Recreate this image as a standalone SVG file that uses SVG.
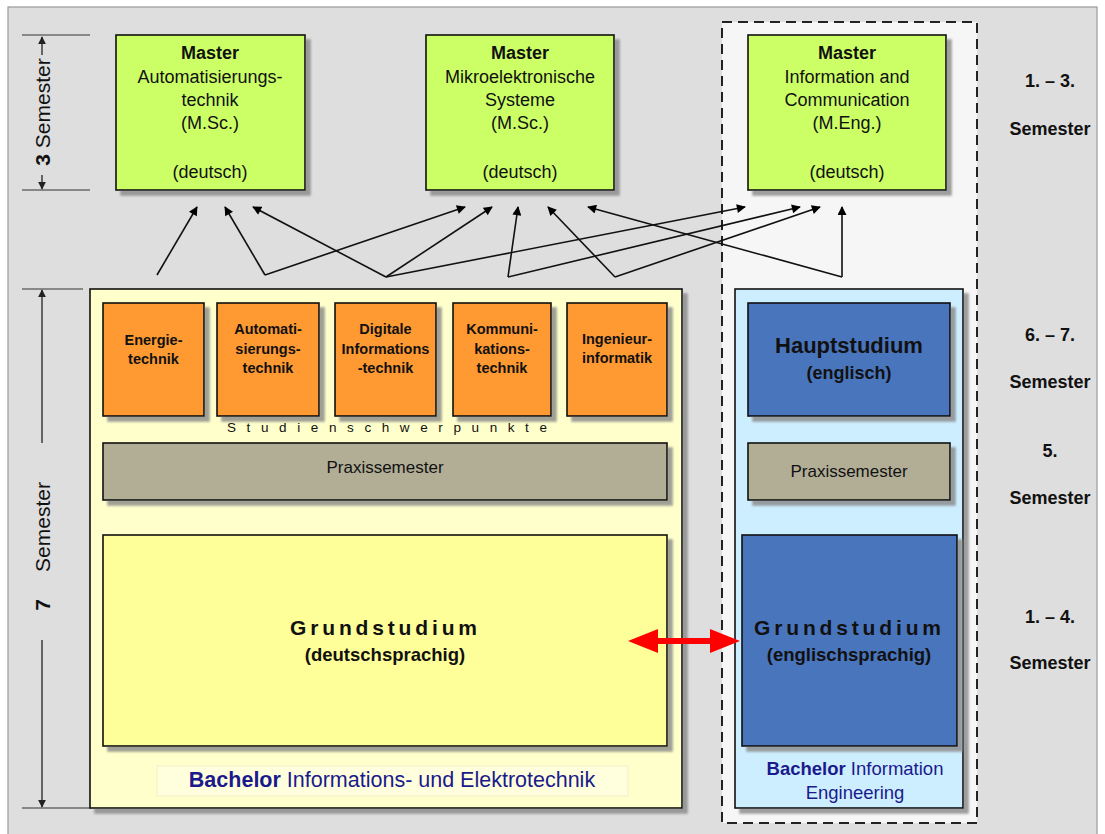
<svg xmlns="http://www.w3.org/2000/svg" width="1105" height="834" viewBox="0 0 1105 834">
<defs>
<filter id="sh" x="-10%" y="-10%" width="130%" height="130%">
<feDropShadow dx="5" dy="5" stdDeviation="1.2" flood-color="#888" flood-opacity="0.8"/>
</filter>
<marker id="ah" viewBox="0 0 10 10" refX="9" refY="5" markerWidth="10" markerHeight="9" markerUnits="userSpaceOnUse" orient="auto">
<path d="M0,0 L10,5 L0,10 z" fill="#000"/>
</marker>
<marker id="ah2" viewBox="0 0 10 10" refX="9" refY="5" markerWidth="8" markerHeight="8" markerUnits="userSpaceOnUse" orient="auto">
<path d="M0,0 L10,5 L0,10 z" fill="#222"/>
</marker>
</defs>
<style>
text{font-family:"Liberation Sans",Arial,sans-serif;fill:#111}
.box{stroke:#111;stroke-width:1.6}
.m{fill:#ccff66}
.o{fill:#ff9933}
.p{fill:#b2ae96}
.b{fill:#4a75bd}
.mt{font-size:18px;text-anchor:middle}
.ot{font-size:14.5px;font-weight:bold;text-anchor:middle}
.rl{font-size:18px;font-weight:bold;text-anchor:middle}
.conn{stroke:#111;stroke-width:1.6;fill:none;marker-end:url(#ah)}
.tick{stroke:#333;stroke-width:1.2}
.blue{fill:#1a1a8c}
</style>
<!-- background -->
<rect x="8" y="7" width="1089" height="840" fill="#dedede" stroke="#999" stroke-width="1.2"/>
<rect x="722" y="22" width="255" height="801" fill="#f6f6f6" stroke="#222" stroke-width="2" stroke-dasharray="10,6"/>

<!-- left scale -->
<g id="scale">
<line class="tick" x1="22" y1="35" x2="90" y2="35"/>
<line class="tick" x1="22" y1="190" x2="90" y2="190"/>
<line class="tick" x1="22" y1="289" x2="83" y2="289"/>
<line class="tick" x1="22" y1="808" x2="90" y2="808"/>
<line x1="42" y1="55" x2="42" y2="37" stroke="#222" stroke-width="1.3" marker-end="url(#ah2)"/>
<line x1="42" y1="175" x2="42" y2="189" stroke="#222" stroke-width="1.3" marker-end="url(#ah2)"/>
<text transform="translate(50,112) rotate(-90)" font-size="21" text-anchor="middle"><tspan font-weight="bold">3</tspan>  Semester</text>
<line x1="42" y1="443" x2="42" y2="290" stroke="#222" stroke-width="1.3" marker-end="url(#ah2)"/>
<line x1="42" y1="640" x2="42" y2="807" stroke="#222" stroke-width="1.3" marker-end="url(#ah2)"/>
<text transform="translate(50,527) rotate(-90)" font-size="21" text-anchor="middle">Semester</text>
<text transform="translate(50,605) rotate(-90)" font-size="21" font-weight="bold" text-anchor="middle">7</text>
</g>

<!-- right labels -->
<g id="right-labels">
<text class="rl" x="1050" y="87">1. – 3.</text>
<text class="rl" x="1050" y="135">Semester</text>
<text class="rl" x="1050" y="341">6. – 7.</text>
<text class="rl" x="1050" y="388">Semester</text>
<text class="rl" x="1050" y="457">5.</text>
<text class="rl" x="1050" y="504">Semester</text>
<text class="rl" x="1050" y="623">1. – 4.</text>
<text class="rl" x="1050" y="669">Semester</text>
</g>

<!-- Masters -->
<g id="master1">
<rect class="box m" x="116" y="35" width="189" height="155" filter="url(#sh)"/>
<text class="mt" x="210" y="59" font-weight="bold">Master</text>
<text class="mt" x="210" y="83">Automatisierungs-</text>
<text class="mt" x="210" y="106">technik</text>
<text class="mt" x="210" y="129">(M.Sc.)</text>
<text class="mt" x="210" y="178">(deutsch)</text>
</g>
<g id="master2">
<rect class="box m" x="426" y="35" width="188" height="155" filter="url(#sh)"/>
<text class="mt" x="520" y="59" font-weight="bold">Master</text>
<text class="mt" x="520" y="83">Mikroelektronische</text>
<text class="mt" x="520" y="106">Systeme</text>
<text class="mt" x="520" y="129">(M.Sc.)</text>
<text class="mt" x="520" y="178">(deutsch)</text>
</g>
<g id="master3">
<rect class="box m" x="748" y="35" width="198" height="155" filter="url(#sh)"/>
<text class="mt" x="847" y="59" font-weight="bold">Master</text>
<text class="mt" x="847" y="83">Information and</text>
<text class="mt" x="847" y="106">Communication</text>
<text class="mt" x="847" y="129">(M.Eng.)</text>
<text class="mt" x="847" y="178">(deutsch)</text>
</g>

<!-- Bachelor IuE -->
<g id="bachelor-ie">
<rect class="box" x="90" y="289" width="592" height="519" fill="#ffffcc" filter="url(#sh)"/>
<rect x="157" y="766" width="471" height="30" fill="#ffffdd" stroke="#f0f0c8" stroke-width="1"/>
<text x="392" y="787" font-size="21.5" text-anchor="middle"><tspan class="blue" font-weight="bold">Bachelor</tspan><tspan class="blue"> Informations- und Elektrotechnik</tspan></text>
</g>
<g id="sp1"><rect class="box o" x="103" y="303" width="101" height="113" filter="url(#sh)"/>
<text class="ot" x="153.5" y="345">Energie-</text><text class="ot" x="153.5" y="364">technik</text></g>
<g id="sp2"><rect class="box o" x="217" y="303" width="102" height="113" filter="url(#sh)"/>
<text class="ot" x="268" y="334">Automati-</text><text class="ot" x="268" y="354">sierungs-</text><text class="ot" x="268" y="373">technik</text></g>
<g id="sp3"><rect class="box o" x="335" y="303" width="101" height="113" filter="url(#sh)"/>
<text class="ot" x="385.5" y="334">Digitale</text><text class="ot" x="385.5" y="354">Informations</text><text class="ot" x="385.5" y="373">-technik</text></g>
<g id="sp4"><rect class="box o" x="453" y="303" width="98" height="113" filter="url(#sh)"/>
<text class="ot" x="502" y="334">Kommuni-</text><text class="ot" x="502" y="354">kations-</text><text class="ot" x="502" y="373">technik</text></g>
<g id="sp5"><rect class="box o" x="567" y="303" width="100" height="113" filter="url(#sh)"/>
<text class="ot" x="617" y="344">Ingenieur-</text><text class="ot" x="617" y="363">informatik</text></g>
<text x="227" y="432" font-size="13.5" textLength="320" lengthAdjust="spacing" fill="#333">Studienschwerpunkte</text>
<g id="praxis-left"><rect class="box p" x="103" y="443" width="564" height="57" filter="url(#sh)"/>
<text x="385" y="473" font-size="17" text-anchor="middle" fill="#222">Praxissemester</text></g>
<g id="grund-left"><rect class="box" x="103" y="535" width="564" height="211" fill="#ffff99" filter="url(#sh)"/>
<text x="290" y="635" font-size="21" font-weight="bold" textLength="187" lengthAdjust="spacing">Grundstudium</text>
<text x="385" y="661" font-size="18.5" font-weight="bold" text-anchor="middle">(deutschsprachig)</text></g>

<!-- Bachelor IE -->
<g id="bachelor-ie-en">
<rect class="box" x="735" y="289" width="228" height="519" fill="#cdeeff" filter="url(#sh)"/>
<text x="855" y="775" font-size="18.5" text-anchor="middle"><tspan class="blue" font-weight="bold">Bachelor</tspan><tspan class="blue"> Information</tspan></text>
<text x="855" y="799" font-size="18.5" text-anchor="middle" class="blue">Engineering</text>
</g>
<g id="haupt"><rect class="box b" x="748" y="303" width="202" height="113" filter="url(#sh)"/>
<text x="849" y="353" font-size="22" font-weight="bold" text-anchor="middle">Hauptstudium</text>
<text x="849" y="379" font-size="18" font-weight="bold" text-anchor="middle">(englisch)</text></g>
<g id="praxis-right"><rect class="box p" x="748" y="443" width="202" height="57" filter="url(#sh)"/>
<text x="849" y="477" font-size="17" text-anchor="middle" fill="#222">Praxissemester</text></g>
<g id="grund-right"><rect class="box b" x="742" y="535" width="215" height="211" filter="url(#sh)"/>
<text x="754" y="635" font-size="21" font-weight="bold" textLength="187" lengthAdjust="spacing">Grundstudium</text>
<text x="849" y="661" font-size="18.5" font-weight="bold" text-anchor="middle">(englischsprachig)</text></g>

<!-- connectors -->
<g id="connectors">
<line class="conn" x1="157" y1="275" x2="197" y2="207"/>
<line class="conn" x1="265" y1="275" x2="225" y2="207"/>
<line class="conn" x1="265" y1="275" x2="465" y2="207"/>
<line class="conn" x1="386" y1="277" x2="253" y2="207"/>
<line class="conn" x1="386" y1="277" x2="492" y2="207"/>
<line class="conn" x1="386" y1="277" x2="745" y2="207"/>
<line class="conn" x1="508" y1="277" x2="518" y2="207"/>
<line class="conn" x1="508" y1="277" x2="800" y2="207"/>
<line class="conn" x1="615" y1="277" x2="548" y2="207"/>
<line class="conn" x1="615" y1="277" x2="820" y2="207"/>
<line class="conn" x1="842" y1="277" x2="588" y2="207"/>
<line class="conn" x1="842" y1="277" x2="842" y2="207"/>
<g id="red-arrow">
<line x1="655" y1="641" x2="713" y2="641" stroke="#ff0000" stroke-width="6"/>
<polygon points="628,641 658,629 658,653" fill="#ff0000"/>
<polygon points="740,641 710,629 710,653" fill="#ff0000"/>
</g>
</g>
</svg>
